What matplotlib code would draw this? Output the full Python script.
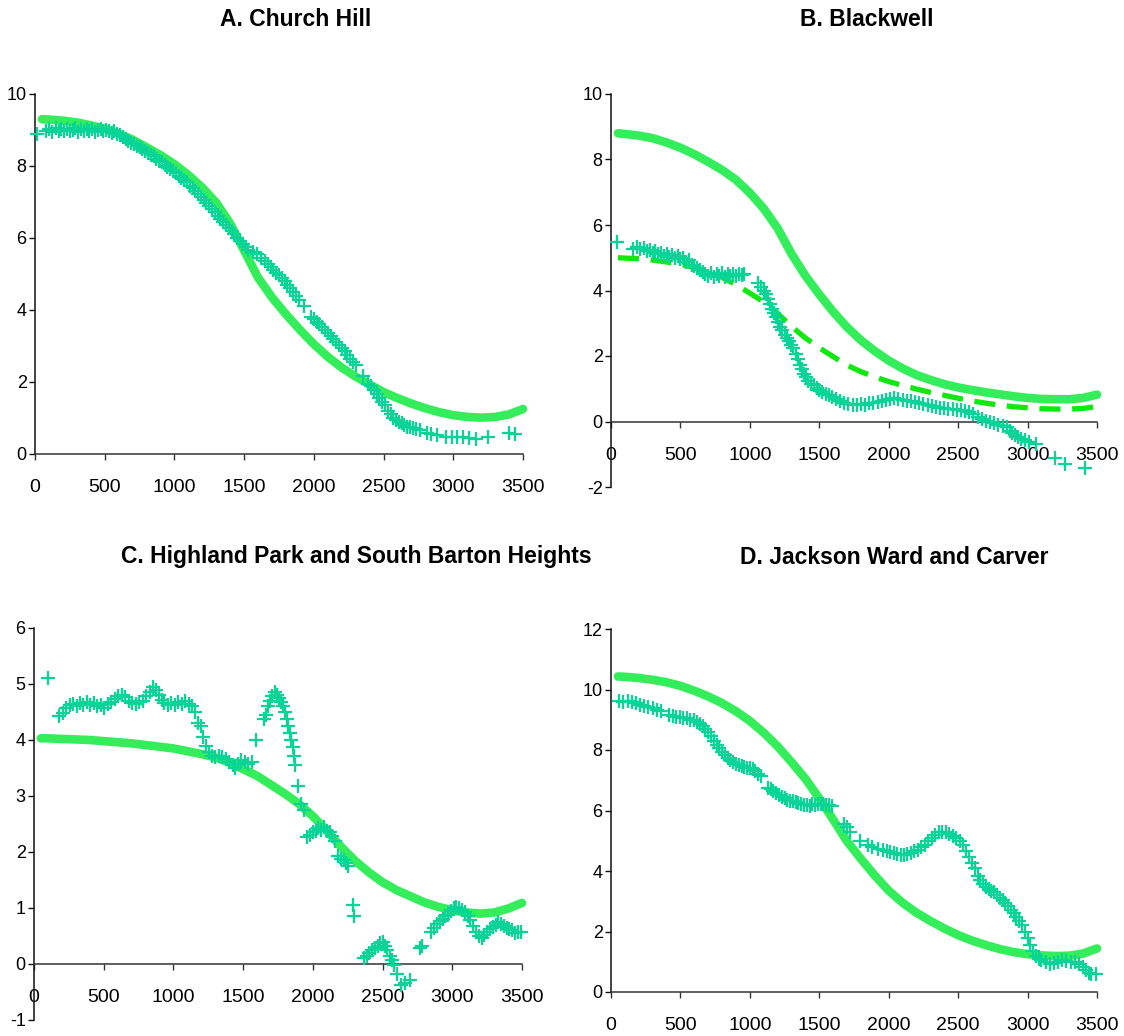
import matplotlib
matplotlib.use("Agg")
import matplotlib.pyplot as plt

plt.rcParams['axes.unicode_minus'] = False

# ---- A. Church Hill ----
a_x = [15, 80, 100, 120, 150, 170, 190, 210, 230, 250, 270, 290, 310, 330, 350, 370, 390, 410, 430, 450,
       470, 490, 510, 530, 550, 570, 590, 610, 630, 650, 670, 690, 710, 730, 750, 770, 790, 810, 830, 850,
       870, 890, 910, 930, 950, 970, 990, 1010, 1030, 1050, 1070, 1090, 1110, 1130, 1150, 1170, 1190, 1210, 1230, 1250,
       1270, 1290, 1310, 1330, 1350, 1370, 1390, 1410, 1430, 1450, 1470, 1490, 1510, 1530, 1560, 1590, 1620, 1650, 1670, 1690,
       1710, 1730, 1750, 1770, 1790, 1810, 1830, 1850, 1870, 1890, 1930, 1980, 2000, 2020, 2040, 2060, 2080, 2100, 2120, 2140,
       2160, 2180, 2200, 2220, 2240, 2260, 2280, 2300, 2350, 2390, 2410, 2430, 2450, 2470, 2490, 2510, 2530, 2550, 2570, 2590,
       2610, 2630, 2650, 2670, 2690, 2710, 2730, 2760, 2810, 2840, 2880, 2950, 2990, 3030, 3070, 3110, 3160, 3250, 3400, 3440]
a_y = [8.88, 8.98, 9.02, 8.95, 9.05, 8.97, 9.02, 8.98, 9.04, 8.96, 9.0, 9.05, 8.95, 9.02, 8.97, 9.03, 8.98, 9.02, 8.95, 9.0,
       9.03, 8.96, 9.0, 8.97, 8.93, 8.96, 8.88, 8.86, 8.8, 8.74, 8.7, 8.64, 8.6, 8.55, 8.52, 8.47, 8.42, 8.36, 8.3, 8.27,
       8.2, 8.14, 8.1, 8.04, 7.97, 7.92, 7.85, 7.8, 7.72, 7.66, 7.6, 7.55, 7.45, 7.38, 7.3, 7.23, 7.15, 7.06, 6.98, 6.9,
       6.8, 6.72, 6.6, 6.52, 6.44, 6.36, 6.28, 6.2, 6.1, 6.0, 5.92, 5.82, 5.74, 5.68, 5.6, 5.55, 5.45, 5.35, 5.28, 5.2,
       5.12, 5.04, 4.96, 4.88, 4.8, 4.7, 4.6, 4.5, 4.4, 4.28, 4.1, 3.8, 3.74, 3.68, 3.6, 3.52, 3.44, 3.36, 3.28, 3.2,
       3.1, 3.02, 2.94, 2.85, 2.76, 2.65, 2.56, 2.48, 2.18, 1.95, 1.88, 1.78, 1.66, 1.55, 1.45, 1.36, 1.2, 1.1, 1.0, 0.94,
       0.88, 0.85, 0.8, 0.76, 0.74, 0.72, 0.7, 0.66, 0.58, 0.55, 0.52, 0.48, 0.47, 0.46, 0.46, 0.45, 0.43, 0.46, 0.57, 0.55]
a_fit_x = [50, 100, 200, 300, 400, 500, 600, 700, 800, 900, 1000, 1100, 1200, 1300, 1400, 1500, 1600, 1700,
           1800, 1900, 2000, 2100, 2200, 2300, 2400, 2500, 2600, 2700, 2800, 2900, 3000, 3100, 3200, 3300, 3400, 3500]
a_fit_y = [9.30, 9.29, 9.26, 9.21, 9.13, 9.03, 8.90, 8.73, 8.52, 8.30, 8.05, 7.75, 7.40, 6.98, 6.40, 5.65, 4.90, 4.35,
           3.88, 3.45, 3.05, 2.70, 2.40, 2.15, 1.93, 1.72, 1.55, 1.40, 1.27, 1.16, 1.08, 1.03, 1.01, 1.03, 1.10, 1.25]

# ---- B. Blackwell ----
b_x = [40, 160, 185, 210, 235, 260, 280, 300, 320, 340, 360, 380, 400, 420, 440, 460, 480, 500, 520, 540,
       560, 580, 600, 620, 640, 660, 680, 700, 720, 740, 760, 780, 800, 820, 840, 860, 880, 900, 920, 940,
       960, 1060, 1080, 1100, 1115, 1130, 1145, 1160, 1175, 1190, 1205, 1220, 1235, 1250, 1265, 1280, 1295, 1310, 1330, 1345,
       1360, 1375, 1390, 1405, 1420, 1440, 1460, 1480, 1500, 1520, 1545, 1570, 1595, 1620, 1650, 1680, 1710, 1740, 1770, 1800,
       1830, 1860, 1890, 1920, 1950, 1980, 2010, 2040, 2070, 2100, 2130, 2160, 2190, 2220, 2250, 2280, 2310, 2340, 2370, 2400,
       2430, 2460, 2490, 2520, 2550, 2580, 2610, 2640, 2670, 2700, 2730, 2760, 2790, 2820, 2850, 2870, 2890, 2910, 2930, 2950,
       2980, 3010, 3060, 3200, 3270, 3410]
b_y = [5.48, 5.28, 5.32, 5.26, 5.3, 5.2, 5.24, 5.15, 5.2, 5.1, 5.15, 5.05, 5.12, 5.02, 5.08, 4.98, 5.04, 4.95, 5.0, 4.88,
       4.92, 4.78, 4.75, 4.68, 4.62, 4.55, 4.5, 4.45, 4.52, 4.42, 4.5, 4.45, 4.52, 4.42, 4.5, 4.44, 4.5, 4.43, 4.5, 4.46,
       4.5, 4.22, 4.12, 4.0, 3.9, 3.75, 3.6, 3.45, 3.3, 3.2, 3.05, 2.9, 2.78, 2.65, 2.55, 2.45, 2.35, 2.25, 2.05, 1.9,
       1.72, 1.6, 1.45, 1.35, 1.25, 1.15, 1.1, 1.02, 0.95, 0.9, 0.85, 0.8, 0.75, 0.7, 0.62, 0.55, 0.52, 0.5, 0.5, 0.52,
       0.5, 0.55, 0.58, 0.6, 0.62, 0.66, 0.7, 0.72, 0.7, 0.66, 0.64, 0.62, 0.6, 0.55, 0.52, 0.5, 0.48, 0.45, 0.42, 0.4,
       0.38, 0.38, 0.35, 0.34, 0.33, 0.3, 0.22, 0.15, 0.08, 0.03, -0.03, -0.06, -0.1, -0.13, -0.18, -0.28, -0.35, -0.42, -0.48, -0.52,
       -0.56, -0.62, -0.7, -1.1, -1.3, -1.43]
b_fit_x = a_fit_x
b_fit_y = [8.80, 8.78, 8.73, 8.65, 8.52, 8.36, 8.16, 7.93, 7.68, 7.38, 6.98, 6.50, 5.90, 5.12, 4.45, 3.88, 3.35, 2.88,
           2.48, 2.15, 1.86, 1.62, 1.42, 1.27, 1.14, 1.04, 0.96, 0.89, 0.83, 0.77, 0.72, 0.69, 0.68, 0.68, 0.72, 0.82]
b_fit2_y = [5.00, 4.99, 4.97, 4.93, 4.87, 4.80, 4.70, 4.55, 4.40, 4.18, 3.92, 3.65, 3.30, 2.90, 2.55, 2.25, 1.98, 1.72,
            1.52, 1.36, 1.22, 1.10, 0.99, 0.89, 0.80, 0.71, 0.63, 0.56, 0.50, 0.45, 0.42, 0.39, 0.38, 0.38, 0.40, 0.46]

# ---- C. Highland Park and South Barton Heights ----
c_x = [100, 180, 205, 230, 255, 280, 305, 330, 355, 380, 405, 430, 455, 480, 505, 530, 555, 580, 605, 630,
       655, 680, 705, 730, 755, 780, 805, 830, 855, 875, 895, 915, 935, 960, 985, 1010, 1035, 1060, 1085, 1110,
       1135, 1155, 1175, 1195, 1215, 1235, 1255, 1275, 1300, 1325, 1350, 1375, 1400, 1425, 1445, 1465, 1485, 1510, 1535, 1560,
       1592, 1650, 1665, 1680, 1695, 1710, 1725, 1740, 1755, 1770, 1785, 1800, 1812, 1824, 1836, 1846, 1856, 1864, 1872, 1890,
       1915, 1935, 1960, 1980, 2000, 2020, 2040, 2060, 2080, 2100, 2120, 2140, 2160, 2180, 2200, 2220, 2240, 2255, 2290, 2296,
       2365, 2385, 2405, 2425, 2445, 2465, 2485, 2505, 2520, 2535, 2550, 2565, 2580, 2600, 2635, 2660, 2700, 2765, 2780, 2850,
       2870, 2890, 2910, 2930, 2950, 2970, 2990, 3010, 3030, 3050, 3070, 3090, 3110, 3130, 3150, 3170, 3190, 3210, 3230, 3250,
       3270, 3290, 3310, 3330, 3350, 3370, 3390, 3410, 3430, 3450, 3470, 3490]
c_y = [5.11, 4.42, 4.48, 4.58, 4.62, 4.65, 4.6, 4.66, 4.62, 4.68, 4.63, 4.66, 4.6, 4.62, 4.58, 4.64, 4.68, 4.73, 4.78, 4.8,
       4.76, 4.7, 4.66, 4.65, 4.68, 4.7, 4.78, 4.86, 4.95, 4.9, 4.8, 4.72, 4.66, 4.62, 4.66, 4.62, 4.68, 4.65, 4.7, 4.64,
       4.6, 4.5, 4.3, 4.25, 4.05, 3.9, 3.78, 3.72, 3.7, 3.72, 3.7, 3.66, 3.6, 3.55, 3.5, 3.58, 3.65, 3.6, 3.58, 3.6,
       4.0, 4.38, 4.45, 4.6, 4.7, 4.78, 4.85, 4.8, 4.75, 4.68, 4.6, 4.5, 4.38, 4.25, 4.12, 4.0, 3.88, 3.72, 3.55, 3.18,
       2.85, 2.75, 2.26, 2.3, 2.35, 2.38, 2.42, 2.4, 2.45, 2.38, 2.35, 2.28, 2.2, 1.92, 1.88, 1.85, 1.8, 1.75, 1.06, 0.85,
       0.11, 0.15, 0.2, 0.25, 0.29, 0.33, 0.38, 0.4, 0.32, 0.25, 0.15, 0.08, -0.02, -0.18, -0.38, -0.34, -0.28, 0.28, 0.32, 0.58,
       0.65, 0.72, 0.76, 0.8, 0.85, 0.88, 0.95, 1.0, 1.02, 1.0, 0.97, 0.92, 0.86, 0.78, 0.68, 0.58, 0.5, 0.47, 0.52, 0.58,
       0.62, 0.66, 0.7, 0.75, 0.72, 0.68, 0.65, 0.62, 0.6, 0.56, 0.58, 0.57]
c_fit_x = a_fit_x
c_fit_y = [4.03, 4.03, 4.02, 4.01, 4.00, 3.98, 3.96, 3.94, 3.91, 3.88, 3.85, 3.80, 3.75, 3.69, 3.60, 3.48, 3.36, 3.20,
           3.04, 2.86, 2.64, 2.38, 2.10, 1.85, 1.64, 1.46, 1.32, 1.21, 1.10, 1.02, 0.96, 0.92, 0.90, 0.92, 0.99, 1.09]

# ---- D. Jackson Ward and Carver ----
d_x = [60, 90, 120, 150, 180, 210, 240, 270, 300, 330, 360, 420, 445, 470, 495, 520, 545, 570, 595, 620,
       640, 660, 680, 700, 720, 740, 760, 780, 800, 820, 840, 860, 880, 900, 920, 940, 960, 980, 1000, 1020,
       1040, 1060, 1080, 1130, 1150, 1170, 1190, 1210, 1230, 1250, 1270, 1290, 1310, 1330, 1350, 1370, 1390, 1410, 1430, 1450,
       1470, 1490, 1510, 1530, 1550, 1570, 1595, 1680, 1700, 1720, 1790, 1850, 1880, 1920, 1960, 1985, 2010, 2035, 2060, 2085,
       2110, 2135, 2160, 2185, 2210, 2235, 2260, 2285, 2310, 2335, 2360, 2385, 2410, 2435, 2460, 2485, 2510, 2535, 2560, 2580,
       2600, 2620, 2640, 2660, 2680, 2700, 2720, 2740, 2760, 2780, 2800, 2820, 2840, 2860, 2880, 2900, 2920, 2940, 2960, 2980,
       3000, 3020, 3040, 3060, 3080, 3100, 3130, 3160, 3190, 3220, 3250, 3280, 3310, 3340, 3370, 3400, 3420, 3440, 3460, 3490]
d_y = [9.62, 9.6, 9.62, 9.58, 9.56, 9.5, 9.45, 9.42, 9.38, 9.33, 9.3, 9.15, 9.12, 9.1, 9.08, 9.05, 9.06, 9.0, 9.0, 8.92,
       8.85, 8.78, 8.68, 8.58, 8.45, 8.3, 8.18, 8.05, 7.95, 7.85, 7.75, 7.68, 7.6, 7.55, 7.5, 7.48, 7.45, 7.42, 7.4, 7.38,
       7.32, 7.22, 7.15, 6.75, 6.7, 6.64, 6.58, 6.52, 6.46, 6.4, 6.36, 6.33, 6.3, 6.28, 6.25, 6.22, 6.18, 6.18, 6.16, 6.2,
       6.18, 6.22, 6.2, 6.2, 6.18, 6.18, 6.15, 5.55, 5.45, 5.3, 5.0, 4.85, 4.8, 4.72, 4.68, 4.65, 4.62, 4.58, 4.55, 4.52,
       4.52, 4.55, 4.6, 4.65, 4.7, 4.78, 4.85, 4.98, 5.1, 5.2, 5.28, 5.3, 5.28, 5.22, 5.15, 5.08, 5.0, 4.85, 4.65, 4.45,
       4.25, 4.1, 3.85, 3.7, 3.58, 3.48, 3.42, 3.35, 3.3, 3.22, 3.12, 3.05, 2.95, 2.85, 2.72, 2.6, 2.48, 2.35, 2.2, 2.0,
       1.78, 1.55, 1.35, 1.2, 1.1, 1.05, 0.98, 0.92, 0.95, 1.0, 1.05, 1.02, 1.0, 0.98, 0.92, 0.82, 0.72, 0.62, 0.58, 0.6]
d_fit_x = a_fit_x
d_fit_y = [10.43, 10.42, 10.38, 10.32, 10.24, 10.12, 9.96, 9.77, 9.55, 9.28, 8.96, 8.57, 8.12, 7.60, 7.05, 6.40, 5.70, 4.98,
           4.40, 3.85, 3.35, 2.95, 2.62, 2.35, 2.10, 1.88, 1.70, 1.55, 1.42, 1.32, 1.25, 1.21, 1.19, 1.20, 1.27, 1.44]

titles = ['A. Church Hill', 'B. Blackwell',
          'C. Highland Park and South Barton Heights', 'D. Jackson Ward and Carver']

marker_col = '#08d498'
fit_col = '#33ee5a'
fit2_col = '#10e810'
tick_font = ['Liberation Sans Narrow', 'Liberation Sans', 'DejaVu Sans']

fig = plt.figure(figsize=(11.24, 10.36), dpi=100)
fig.set_facecolor('white')

W, H = 1124, 1036
def box(left, top, right, bottom):
    return [left / W, 1 - bottom / H, (right - left) / W, (bottom - top) / H]

panels = [
    (box(35, 94, 523, 454), a_x, a_y, a_fit_x, a_fit_y, None, (0, 10), range(0, 11, 2)),
    (box(611, 94, 1097, 487), b_x, b_y, b_fit_x, b_fit_y, b_fit2_y, (-2, 10), range(-2, 11, 2)),
    (box(34, 628, 522, 1020), c_x, c_y, c_fit_x, c_fit_y, None, (-1, 6), range(-1, 7, 1)),
    (box(611, 629, 1097, 992), d_x, d_y, d_fit_x, d_fit_y, None, (0, 12), range(0, 13, 2)),
]

for rect, px, py, fx, fy, fy2, ylim, yt in panels:
    ax = fig.add_axes(rect)
    ax.plot(fx, fy, color=fit_col, lw=6.2, solid_capstyle='round', zorder=2)
    if fy2 is not None:
        ax.plot(fx, fy2, color=fit2_col, lw=3.8, dashes=(4, 2.2), zorder=2)
    ax.plot(px, py, ls='none', marker='+', ms=9.5, mew=1.6, color=marker_col, zorder=3)

    ax.set_xlim(0, 3500)
    ax.set_ylim(*ylim)
    ax.set_xticks(range(0, 3501, 500))
    ax.set_yticks(list(yt))
    for s in ['top', 'right']:
        ax.spines[s].set_visible(False)
    ax.spines['bottom'].set_position(('data', 0))
    ax.spines['bottom'].set_color('#333333')
    ax.spines['left'].set_color('#111111')
    ax.spines['bottom'].set_linewidth(1.1)
    ax.spines['left'].set_linewidth(1.1)
    ax.tick_params(axis='x', direction='out', length=4, width=1, color='#333333', pad=14)
    ax.tick_params(axis='y', direction='out', length=4, width=1, color='#111111', pad=2)
    for lab in ax.get_xticklabels():
        lab.set_family(tick_font)
        lab.set_fontsize(14)
    for lab in ax.get_yticklabels():
        lab.set_family(tick_font)
        lab.set_fontsize(13)
    for ln in ax.lines:
        ln.set_clip_on(False)

# titles sit at fixed places above each panel
title_pos = [(296, 20), (867, 20), (356, 557), (894, 557)]
for t, (tx, ty) in zip(titles, title_pos):
    fig.text(tx / W, 1 - ty / H, t, ha='center', va='center', fontsize=16.5,
             fontweight='bold', family=['Liberation Sans', 'DejaVu Sans'])

fig.savefig('out.png', dpi=100)
